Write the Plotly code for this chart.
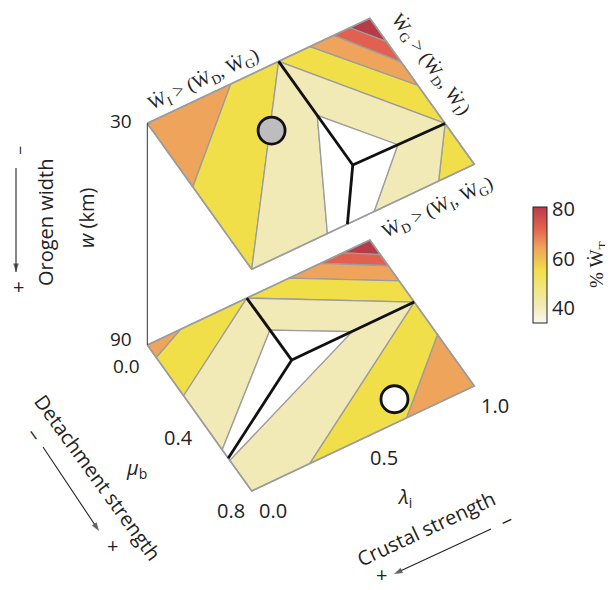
import plotly.graph_objects as go

# ---------------- data ----------------
W_LEVELS = [30, 90]                 # orogen width (km) of the two panels
MU_TICKS = [0.0, 0.4, 0.8]          # detachment friction mu_b
LAM_TICKS = [0.0, 0.5, 1.0]         # pore-fluid ratio lambda_i
CBAR_TICKS = [40, 60, 80]
CBAR_RANGE = [34, 81]

# representative %W_T value of each contour band
BAND_VALUE = {"white": 34, "pale": 44, "yellow": 55, "orange": 65, "red": 72, "darkred": 79}
BAND_COLOR = {"white": "#FFFFFF", "pale": "#F2EAB6", "yellow": "#F1DF4A",
              "orange": "#EFA45B", "red": "#E2604F", "darkred": "#B83C48"}

# contour bands (mu_b, lambda_i) for w = 30 km
BANDS_30 = [
    ("orange", [(0, 0), (0, 0.375), (0.349, 0)]),
    ("red", [(0, 0), (0, 0.015), (0.012, 0)]),
    ("yellow", [(0, 0.375), (0, 0.59), (0.8, 0), (0.349, 0)]),
    ("pale", [(0, 0.59), (0.296, 0.59), (0.8, 0.34), (0.8, 0)]),
    ("white", [(0.296, 0.59), (0.568, 0.59), (0.8, 0.43), (0.8, 0.34)]),
    ("darkred", [(0, 1), (0, 0.91), (0.128, 1)]),
    ("red", [(0, 0.91), (0, 0.837), (0.24, 1), (0.128, 1)]),
    ("orange", [(0, 0.837), (0, 0.73), (0.368, 1), (0.24, 1)]),
    ("yellow", [(0, 0.73), (0, 0.59), (0.576, 1), (0.368, 1)]),
    ("pale", [(0, 0.59), (0.576, 1), (0.572, 0.79), (0.296, 0.59)]),
    ("white", [(0.296, 0.59), (0.572, 0.79), (0.568, 0.59)]),
    ("yellow", [(0.576, 1), (0.8, 1), (0.8, 0.84)]),
    ("pale", [(0.576, 1), (0.8, 0.84), (0.8, 0.55), (0.572, 0.79)]),
    ("white", [(0.572, 0.79), (0.8, 0.55), (0.8, 0.43), (0.568, 0.59)]),
]
# dominance boundaries (mu_b, lambda_i) for w = 30 km
BOUNDS_30 = [[(0, 0.59), (0.568, 0.59)], [(0.568, 0.59), (0.576, 1)], [(0.568, 0.59), (0.8, 0.43)]]

# contour bands for w = 90 km
BANDS_90 = [
    ("orange", [(0, 0), (0, 0.15), (0.069, 0)]),
    ("yellow", [(0.069, 0), (0, 0.15), (0, 0.447), (0.278, 0)]),
    ("pale", [(0.278, 0), (0, 0.447), (0.176, 0.448), (0.574, 0)]),
    ("white", [(0.574, 0), (0.176, 0.448), (0.341, 0.449), (0.62, 0)]),
    ("darkred", [(0, 1), (0, 0.877), (0.08, 1)]),
    ("red", [(0, 0.877), (0, 0.778), (0.141, 1), (0.08, 1)]),
    ("orange", [(0, 0.778), (0, 0.636), (0.224, 1), (0.141, 1)]),
    ("yellow", [(0, 0.636), (0, 0.447), (0.34, 1), (0.224, 1)]),
    ("pale", [(0, 0.447), (0.34, 1), (0.341, 0.72), (0.176, 0.448)]),
    ("white", [(0.176, 0.448), (0.341, 0.72), (0.341, 0.449)]),
    ("orange", [(0.518, 1), (0.8, 1), (0.8, 0.695)]),
    ("yellow", [(0.34, 1), (0.518, 1), (0.8, 0.695), (0.8, 0.26)]),
    ("pale", [(0.34, 1), (0.8, 0.26), (0.8, 0), (0.632, 0), (0.341, 0.72)]),
    ("white", [(0.341, 0.72), (0.632, 0), (0.62, 0), (0.341, 0.449)]),
]
BOUNDS_90 = [[(0, 0.447), (0.341, 0.449)], [(0.341, 0.449), (0.34, 1)], [(0.341, 0.449), (0.62, 0)]]

# example models (mu_b, lambda_i, w)
MODEL_MU = [0.27, 0.70]
MODEL_LAM = [0.40, 0.70]
MODEL_W = [30, 90]
MODEL_FILL = ["#BDBDC0", "#FFFFFF"]

# ---------------- page / oblique axes ----------------
PAGE_OFF = 8              # default body margin of the html page
FIG_W, FIG_H = 613 - PAGE_OFF, 590 - PAGE_OFF

X0, Y0 = 147.3, 123.3
AX, AY = 104.4, 146.0     # full mu_b span 0 -> 0.8
BX, BY = 222.6, -105.0    # full lambda_i span 0 -> 1
DW = 221.7                # w span 30 -> 90


def proj(mu, lam, w):
    u = mu / 0.8
    return X0 + u * AX + lam * BX, Y0 + (w - 30) / 60 * DW + u * AY + lam * BY


fig = go.Figure()
GRAY = "#9C9C9C"
INK = "#222222"

for w, bands, bounds in [(30, BANDS_30, BOUNDS_30), (90, BANDS_90, BOUNDS_90)]:
    for name, poly in bands:
        pts = [proj(m, l, w) for m, l in poly] + [proj(poly[0][0], poly[0][1], w)]
        fig.add_trace(go.Scatter(x=[p[0] for p in pts], y=[p[1] for p in pts], mode="lines",
                                 fill="toself", fillcolor=BAND_COLOR[name],
                                 line=dict(color=GRAY, width=1.3), hoverinfo="skip",
                                 showlegend=False))
    corners = [(0, 0), (0, 1), (0.8, 1), (0.8, 0), (0, 0)]
    pts = [proj(m, l, w) for m, l in corners]
    fig.add_trace(go.Scatter(x=[p[0] for p in pts], y=[p[1] for p in pts], mode="lines",
                             line=dict(color=GRAY, width=1.6), hoverinfo="skip", showlegend=False))
    for seg in bounds:
        pts = [proj(m, l, w) for m, l in seg]
        fig.add_trace(go.Scatter(x=[p[0] for p in pts], y=[p[1] for p in pts], mode="lines",
                                 line=dict(color="#111111", width=2.8), hoverinfo="skip",
                                 showlegend=False))

# w axis line joining the two panels
pa, pb = proj(0, 0, W_LEVELS[0]), proj(0, 0, W_LEVELS[1])
fig.add_trace(go.Scatter(x=[pa[0], pb[0]], y=[pa[1], pb[1]], mode="lines",
                         line=dict(color="#333333", width=1), hoverinfo="skip", showlegend=False))

# model markers
for i in range(len(MODEL_MU)):
    px, py = proj(MODEL_MU[i], MODEL_LAM[i], MODEL_W[i])
    fig.add_trace(go.Scatter(x=[px], y=[py], mode="markers",
                             marker=dict(size=27, color=MODEL_FILL[i],
                                         line=dict(color="#111111", width=2.8)),
                             hoverinfo="skip", showlegend=False))


def arrow(x0, y0, x1, y1):
    fig.add_trace(go.Scatter(x=[x0, x1], y=[y0, y1], mode="lines+markers",
                             line=dict(color=INK, width=1.1),
                             marker=dict(symbol=["circle", "arrow"], size=[0, 9], color=INK,
                                         angleref="previous", line=dict(width=0)),
                             hoverinfo="skip", showlegend=False))


arrow(16, 168, 16, 272)
arrow(43, 447, 99, 531)
arrow(491, 529, 394, 574)

# colour bar
CSCALE = [[0.0, "#FAF8F0"], [0.15, "#F2EAB6"], [0.45, "#F1DF4A"],
          [0.65, "#EFA45B"], [0.82, "#E2604F"], [1.0, "#B83C48"]]
fig.add_trace(go.Scatter(x=[-100], y=[-100], mode="markers", showlegend=False, hoverinfo="skip",
                         marker=dict(color=[BAND_VALUE["pale"]], colorscale=CSCALE,
                                     cmin=CBAR_RANGE[0], cmax=CBAR_RANGE[1], showscale=True,
                                     colorbar=dict(x=(533 - PAGE_OFF) / FIG_W, xanchor="left", xpad=0,
                                                   y=1 - (265 - PAGE_OFF) / FIG_H, yanchor="middle",
                                                   ypad=0, lenmode="pixels", len=116, thickness=14,
                                                   outlinecolor=INK, outlinewidth=1,
                                                   tickvals=CBAR_TICKS, ticks="",
                                                   tickfont=dict(family="Open Sans", size=20,
                                                                 color=INK)))))

SANS = dict(family="Open Sans", size=20, color=INK)
SMALL = dict(family="Open Sans", size=19, color=INK)
SIGN = dict(family="Open Sans", size=20, color=INK)
VSIGN = dict(family="Open Sans", size=16, color=INK)
SERIF = dict(family="Liberation Serif", size=19, color=INK)
ann = []


def text(x, y, t, font=SANS, angle=0, xanchor="center"):
    ann.append(dict(x=x, y=y, xref="x", yref="y", text=t, showarrow=False, font=font,
                    textangle=angle, xanchor=xanchor, yanchor="middle"))


# tick labels
for w, dy in zip(W_LEVELS, [-2, -6]):
    px, py = proj(0, 0, w)
    text(px - 13, py + dy, str(w), font=SMALL, xanchor="right")
for m, dy in zip(MU_TICKS, [21, 19, 19]):
    px, py = proj(m, 0, 90)
    text(px - 21, py + dy, f"{m:.1f}", font=SMALL if m == 0 else SANS)
for l in LAM_TICKS:
    px, py = proj(0.8, l, 90)
    text(px + 21, py + 19, f"{l:.1f}")

text(136, 468, "<i>μ</i><sub>b</sub>")
text(404, 497, "<i>λ</i><sub>i</sub>")

# orogen width
text(45, 222, "Orogen width", angle=-90)
text(86, 218, "<i>w</i> (km)", angle=-90)
text(20, 151, "−", font=VSIGN, angle=-90)
text(18, 286, "+", font=SIGN)

# detachment strength
text(98, 477, "Detachment strength", angle=54)
text(34, 434, "−", font=SIGN, angle=54)
text(112, 545, "+", font=SIGN)

# crustal strength
text(426, 528, "Crustal strength", angle=-25)
text(506, 521, "−", font=SIGN, angle=-25)
text(381, 574, "+", font=SIGN)

# regime labels
WD = "W\u0307"
text(204, 80, f"{WD}<sub>I</sub> > ({WD}<sub>D</sub>, {WD}<sub>G</sub>)", font=SERIF, angle=-25)
text(430, 65, f"{WD}<sub>G</sub> > ({WD}<sub>D</sub>, {WD}<sub>I</sub>)", font=SERIF, angle=54)
text(438, 208, f"{WD}<sub>D</sub> > ({WD}<sub>I</sub>, {WD}<sub>G</sub>)", font=SERIF, angle=-25)

# colour bar title
text(598, 265, f"% {WD}<sub>T</sub>", font=SERIF, angle=-90)

fig.update_layout(
    width=FIG_W, height=FIG_H, autosize=False,
    margin=dict(l=0, r=0, t=0, b=0),
    paper_bgcolor="white", plot_bgcolor="white",
    xaxis=dict(range=[PAGE_OFF, 613], visible=False, fixedrange=True),
    yaxis=dict(range=[590, PAGE_OFF], visible=False, fixedrange=True),
    annotations=ann, showlegend=False,
)

fig.write_html("out.html")
